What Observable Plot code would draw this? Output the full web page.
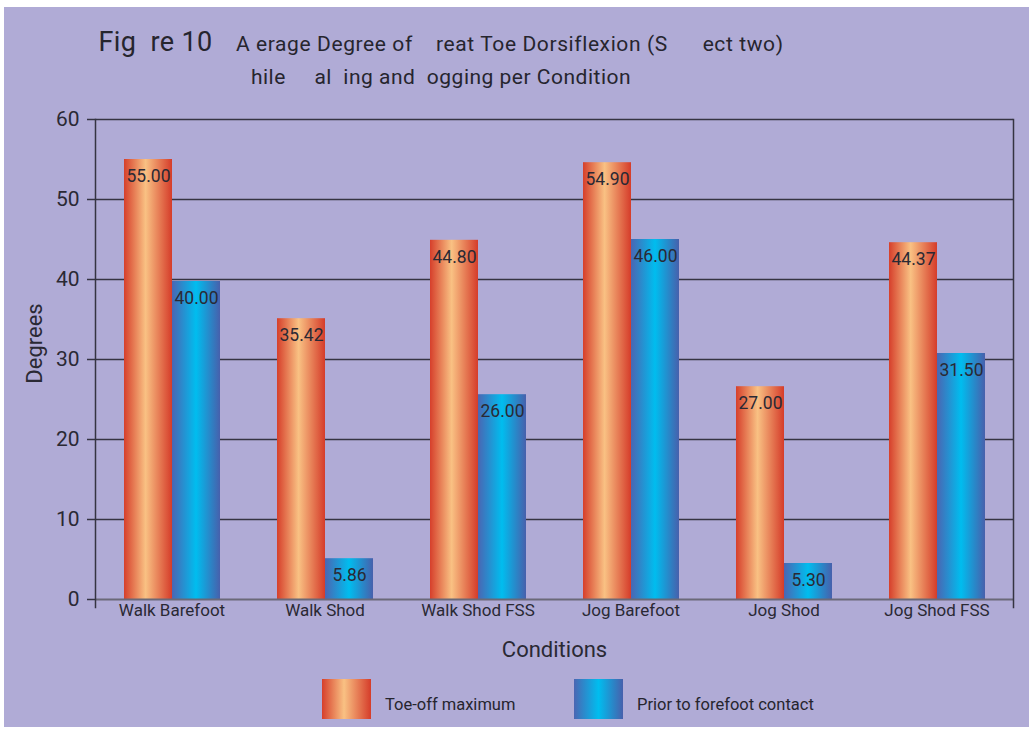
<!DOCTYPE html>
<html>
<head>
<meta charset="utf-8">
<script src="https://cdn.jsdelivr.net/npm/d3@7"></script>
<script src="https://cdn.jsdelivr.net/npm/@observablehq/plot@0.6"></script>
<style>
  html, body { margin: 0; padding: 0; background: #ffffff; }
  #wrap { position: absolute; left: 4px; top: 7px; width: 1025px; height: 720px; background: #b0abd6;
          font-family: Roboto, "Noto Sans", sans-serif; color: #26252e; overflow: hidden; }
  .tline { position: absolute; left: 0; width: 874px; text-align: center; white-space: pre; letter-spacing: 0.5px; }
  #t1 { top: 20px; font-size: 21px; line-height: 30px; letter-spacing: 0.6px; }
  #t1 .big { font-size: 27px; letter-spacing: 0.4px; }
  #t2 { top: 58px; font-size: 21px; line-height: 25px; }
  #chart { position: absolute; left: 0; top: 93px; }
  #legend { position: absolute; left: 0; top: 663px; width: 1025px; height: 57px; font-size: 16.5px; }
  .sw { position: absolute; top: 9px; width: 49px; height: 40px; }
  .lt { position: absolute; top: 25px; line-height: 20px; white-space: nowrap; }
</style>
</head>
<body>
<div id="wrap">
  <div class="tline" id="t1"><span class="big">Fig  re 10</span>    A erage Degree of    reat Toe Dorsiflexion (S      ect two)</div>
  <div class="tline" id="t2">hile     al  ing and  ogging per Condition</div>
  <div id="chart"></div>
  <div id="legend"></div>
</div>
<script>
const categories = ["Walk Barefoot", "Walk Shod", "Walk Shod FSS", "Jog Barefoot", "Jog Shod", "Jog Shod FSS"];
const seriesNames = ["Toe-off maximum", "Prior to forefoot contact"];
// bar heights as drawn in the reference
const toeOffValues = [55.0, 35.1, 44.9, 54.6, 26.6, 44.6];
const priorValues  = [39.75, 5.1, 25.6, 45.0, 4.5, 30.75];
// data labels as printed in the reference
const toeOffLabels = ["55.00", "35.42", "44.80", "54.90", "27.00", "44.37"];
const priorLabels  = ["40.00", "5.86", "26.00", "46.00", "5.30", "31.50"];
const yTicks = [0, 10, 20, 30, 40, 50, 60];
const yLabel = "Degrees";
const xLabel = "Conditions";

const gradients = {
  gradOrange: [["0%", "#d63f2b"], ["45%", "#f9c183"], ["100%", "#d53c2a"]],
  gradBlue:   [["0%", "#4a66b3"], ["50%", "#00bdef"], ["100%", "#4760ac"]]
};
const seriesFills = ["url(#gradOrange)", "url(#gradBlue)"];
const legendCss = [
  "linear-gradient(to right, #d63f2b 0%, #f9c183 45%, #d53c2a 100%)",
  "linear-gradient(to right, #4a66b3 0%, #00bdef 50%, #4760ac 100%)"
];

const rows = categories.flatMap((c, i) => [
  {category: c, series: seriesNames[0], value: toeOffValues[i], label: toeOffLabels[i]},
  {category: c, series: seriesNames[1], value: priorValues[i], label: priorLabels[i]}
]);

const ink = "#2a2934";
const gridInk = "#353442";

const chart = Plot.plot({
  width: 1025,
  height: 570,
  marginLeft: 89,
  marginRight: 15,
  marginTop: 19,
  marginBottom: 71,
  style: {background: "transparent", fontFamily: "Roboto, 'Noto Sans', sans-serif", color: ink, overflow: "visible"},
  fx: {domain: categories, padding: 0},
  x: {domain: seriesNames, paddingInner: 0, paddingOuter: 0.566, axis: null},
  y: {domain: [0, 60]},
  color: {domain: seriesNames, range: seriesFills},
  marks: [
    Plot.ruleY(yTicks.slice(1), {stroke: gridInk, strokeWidth: 1.5}),
    Plot.barY(rows, {fx: "category", x: "series", y: "value", fill: "series"}),
    Plot.ruleY([0], {stroke: "#6a6978", strokeWidth: 2}),
    Plot.text(rows, {fx: "category", x: "series", y: "value", text: "label", lineAnchor: "top", dy: 10, fontSize: 17.5, fill: ink}),
    Plot.axisY({ticks: yTicks, tickSize: 8, tickPadding: 8, fontSize: 21, tickFormat: d => String(d), stroke: gridInk, strokeWidth: 1.5, label: null}),
    Plot.text([yLabel], {frameAnchor: "left", facetAnchor: "left", textAnchor: "middle", lineAnchor: "middle", rotate: -90, dx: -61, dy: -16, fontSize: 22, fill: ink}),
    Plot.axisFx({anchor: "bottom", tickSize: 0, tickPadding: 4, fontSize: 17, label: null}),
    Plot.axisFx({anchor: "bottom", ticks: [], tickSize: 0, fontSize: 22, label: xLabel, labelAnchor: "center", labelArrow: "none", labelOffset: 57}),
    Plot.frame({anchor: "left", facetAnchor: "left", insetBottom: -8, stroke: gridInk, strokeWidth: 1.5}),
    Plot.frame({anchor: "right", facetAnchor: "right", insetBottom: -8, stroke: gridInk, strokeWidth: 1.5})
  ]
});

const svg = chart.tagName.toLowerCase() === "svg" ? chart : chart.querySelector("svg");
const defs = d3.select(svg).insert("defs", ":first-child");
for (const [id, stops] of Object.entries(gradients)) {
  const g = defs.append("linearGradient").attr("id", id)
    .attr("x1", "0%").attr("x2", "100%").attr("y1", "0%").attr("y2", "0%");
  for (const [o, c] of stops) g.append("stop").attr("offset", o).attr("stop-color", c);
}
document.getElementById("chart").appendChild(chart);

// legend
const legend = d3.select("#legend");
const legendPos = [{sw: 318, tx: 381}, {sw: 570, tx: 633}];
seriesNames.forEach((name, i) => {
  legend.append("div").attr("class", "sw").style("left", legendPos[i].sw + "px").style("background", legendCss[i]);
  legend.append("div").attr("class", "lt").style("left", legendPos[i].tx + "px").text(name);
});
</script>
</body>
</html>
